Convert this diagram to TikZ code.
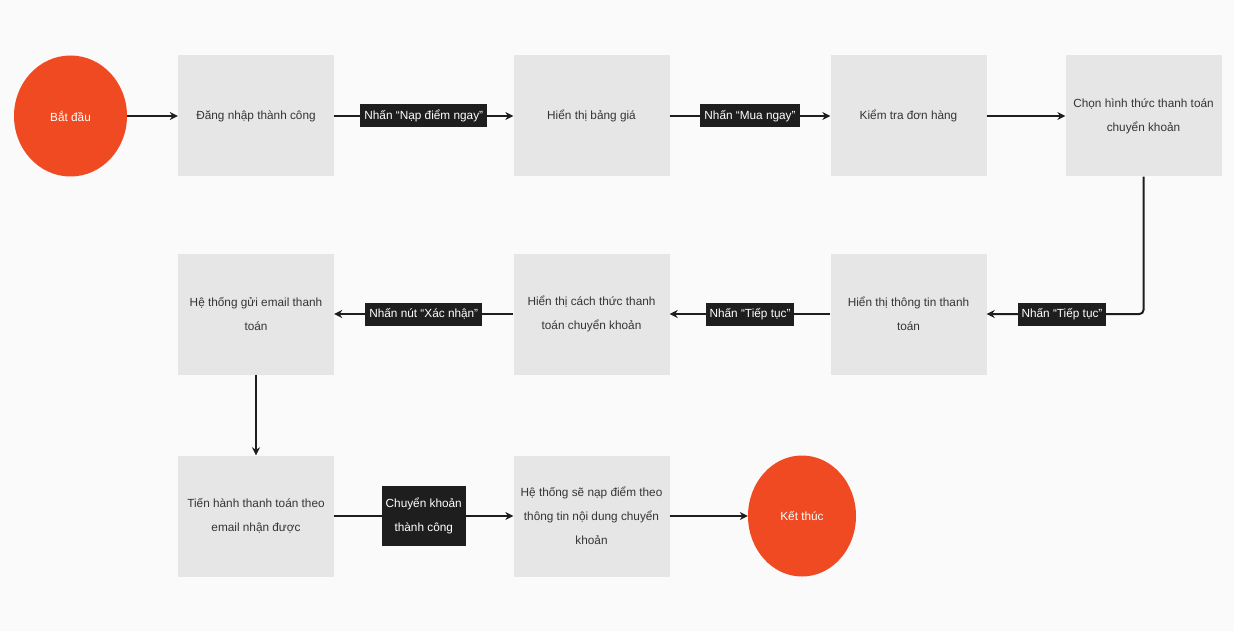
\documentclass[tikz,border=0pt]{standalone}
\usepackage{fontspec}
\setmainfont{Liberation Sans}
\usetikzlibrary{shapes.geometric,arrows.meta,positioning}
\definecolor{Flame}  {RGB}{240, 74, 35}
\definecolor{BoxGray}{RGB}{230,230,230}
\definecolor{Ink}    {RGB}{ 30, 30, 30}
\definecolor{Paper}  {RGB}{250,250,250}
\tikzset{
  stepbox/.style={
    rectangle, fill=BoxGray, text=Ink!90,
    minimum width=156pt, minimum height=121pt,
    align=center, inner sep=0pt,
    font=\fontsize{11.8}{24}\selectfont
  },
  endpoint/.style={ellipse, fill=Flame, text=white,
                   minimum width=113pt, minimum height=121pt,
                   font=\fontsize{11.8}{24}\selectfont},
  tag/.style={rectangle, sharp corners, fill=Ink, text=white, align=center,
              inner xsep=4pt, inner ysep=3pt, minimum height=23pt,
              font=\fontsize{11.8}{24}\selectfont},
  flow/.style={-{Stealth[length=8pt,width=8pt]},
               line width=2pt, color=Ink}
}

\begin{document}
\begin{tikzpicture}[x=1pt,y=-1pt]
  \fill[Paper] (0,0) rectangle (1234,631);
  \useasboundingbox (0,0) rectangle (1234,631);

  % first row
  \node[endpoint] (start) at (70.5,116)  {Bắt đầu};
  \node[stepbox]  (login) at (256,116)   {Đăng nhập thành công};
  \node[stepbox]  (price) at (591.5,116) {Hiển thị bảng giá};
  \node[stepbox]  (order) at (908.5,116) {Kiểm tra đơn hàng};
  \node[stepbox]  (method) at (1143.5,116) {Chọn hình thức thanh toán\\chuyển khoản};

  % second row
  \node[stepbox]  (info)  at (908.5,314) {Hiển thị thông tin thanh\\toán};
  \node[stepbox]  (guide) at (591.5,314) {Hiển thị cách thức thanh\\toán chuyển khoản};
  \node[stepbox]  (mail)  at (256,314)   {Hệ thống gửi email thanh\\toán};

  % third row
  \node[stepbox]  (pay)   at (256,516)   {Tiến hành thanh toán theo\\email nhận được};
  \node[stepbox]  (topup) at (591.5,516) {Hệ thống sẽ nạp điểm theo\\thông tin nội dung chuyển\\khoản};
  \node[endpoint, minimum width=108pt] (finish) at (802,516) {Kết thúc};

  \draw[flow] (start) -- (login);
  \draw[flow] (login) -- node[tag] {Nhấn “Nạp điểm ngay”} (price);
  \draw[flow] (price) -- node[tag] {Nhấn “Mua ngay”} (order);
  \draw[flow] (order) -- (method);
  \draw[flow, rounded corners=4pt] (method.south) |- node[tag, pos=0.76] {Nhấn “Tiếp tục”} (info.east);
  \draw[flow] (info) -- node[tag] {Nhấn “Tiếp tục”} (guide);
  \draw[flow] (guide) -- node[tag] {Nhấn nút “Xác nhận”} (mail);
  \draw[flow] (mail) -- (pay);
  \draw[flow] (pay) -- node[tag, inner ysep=12pt] {Chuyển khoản\\thành công} (topup);
  \draw[flow] (topup) -- (finish);
\end{tikzpicture}
\end{document}
